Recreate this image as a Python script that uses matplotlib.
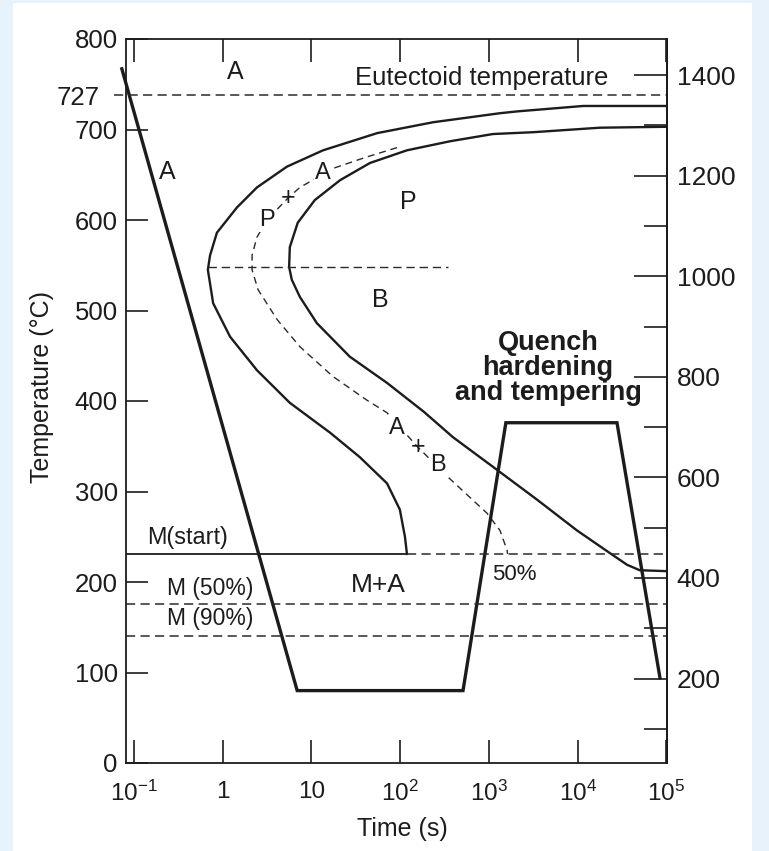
import matplotlib
matplotlib.use('Agg')
import matplotlib.pyplot as plt
from matplotlib.patches import Rectangle
from matplotlib.ticker import NullLocator

plt.rcParams['font.family'] = ['Liberation Sans', 'DejaVu Sans']
plt.rcParams['mathtext.fontset'] = 'custom'
plt.rcParams['mathtext.rm'] = 'Liberation Sans'
plt.rcParams['mathtext.it'] = 'Liberation Sans:italic'
plt.rcParams['mathtext.bf'] = 'Liberation Sans:bold'

INK = '#1c1c1c'
DASH = '#2a2a2a'

# transformation start curve (time s, temperature C)
start_t = [1e5, 1.15e4, 2080, 1330, 234, 55, 13.5, 5.3, 2.43, 1.45, 0.86, 0.72, 0.68,
           0.78, 1.21, 2.43, 5.7, 16.2, 35, 71, 99, 113, 119]
start_T = [726, 726, 720, 718, 708, 696, 677, 659, 636, 614, 586, 561, 545,
           508, 471, 434, 398, 365, 338, 309, 280, 250, 231]

# transformation finish curve
finish_t = [1e5, 1.78e4, 3130, 1110, 364, 119, 45.6, 21, 10.9, 7.0, 5.7, 5.6, 6.0, 7.4,
            11.5, 27, 71, 185, 393, 1230, 3480, 9800, 2.3e4, 3.6e4, 5.0e4, 1e5]
finish_T = [703, 702, 697, 695, 687, 677, 663, 644, 622, 597, 570, 548, 534, 515,
            486, 449, 420, 388, 360, 324, 291, 257, 232, 219, 213, 212]

# 50% transformation (dashed)
mid_t = [92, 40, 17.5, 7.4, 5.4, 3.15, 2.43, 2.14, 2.14, 2.5, 4.1, 7.4, 17.5, 42, 71,
         158, 345, 950, 1330, 1600, 1620]
mid_T = [680, 669, 657, 636, 624, 600, 581, 561, 545, 523, 490, 460, 427, 401, 387,
         349, 316, 276, 257, 235, 231]

# P/B boundary (dashed horizontal)
pb_t = [0.68, 345]
pb_T = [548, 548]

# quench hardening and tempering path
path_t = [0.073, 6.9, 510, 1550, 27700, 84500]
path_T = [767, 80, 80, 376, 376, 94]

eutectoid_line = 738      # where the 727 line sits on the drawn scale
ms_T, m50_T, m90_T = 231, 176, 140
ms_end_t = 119

x_ticks = [0.1, 1, 10, 100, 1e3, 1e4, 1e5]
x_labels = [r'$\mathregular{10^{-1}}$', '1', '10', r'$\mathregular{10^{2}}$',
            r'$\mathregular{10^{3}}$', r'$\mathregular{10^{4}}$', r'$\mathregular{10^{5}}$']
y_ticks = list(range(0, 801, 100))
f_major = [200, 400, 600, 800, 1000, 1200, 1400]
f_minor = [100, 300, 500, 700, 900, 1100, 1300]

fig = plt.figure(figsize=(7.69, 8.51), dpi=100, facecolor='#e8f2fa')
fig.add_artist(Rectangle((13 / 769, 0), 739 / 769, 848 / 851, transform=fig.transFigure,
                         facecolor='white', edgecolor='none', zorder=-1))
ax = fig.add_axes([126 / 769, 88 / 851, 541 / 769, 724 / 851])
ax.set_xscale('log')
ax.set_xlim(10 ** -1.09, 10 ** 5.006)
ax.set_ylim(0, 800)
x0 = ax.get_xlim()[0]

# curves
ax.plot(start_t, start_T, color=INK, lw=1.7, solid_joinstyle='round')
ax.plot(finish_t, finish_T, color=INK, lw=1.7, solid_joinstyle='round')
ax.plot(mid_t, mid_T, color=DASH, lw=1.0, dashes=(5, 3.5))
ax.plot(pb_t, pb_T, color=DASH, lw=1.0, dashes=(6, 3.5))
ax.plot(path_t, path_T, color=INK, lw=2.4, clip_on=False, solid_joinstyle='miter')

# horizontal reference lines
ax.plot([0.06, 1e5], [eutectoid_line] * 2, color=DASH, lw=1.1, dashes=(6, 3.5),
        clip_on=False)
ax.plot([x0, ms_end_t], [ms_T] * 2, color=INK, lw=1.3)
ax.plot([ms_end_t, 1e5], [ms_T] * 2, color=DASH, lw=1.1, dashes=(6, 3.5))
ax.plot([x0, 1e5], [m50_T] * 2, color=DASH, lw=1.1, dashes=(6, 3.5))
ax.plot([x0, 1e5], [m90_T] * 2, color=DASH, lw=1.1, dashes=(6, 3.5))

# labels
txt = dict(color=INK, ha='center', va='center', zorder=5)
wb = dict(facecolor='white', edgecolor='none', pad=0.5)
ax.text(1.37, 764, 'A', fontsize=18, **txt)
ax.text(0.24, 653, 'A', fontsize=18, **txt)
ax.text(122, 620, 'P', fontsize=18, **txt)
ax.text(59, 512, 'B', fontsize=18, **txt)
ax.text(13.5, 652, 'A', fontsize=17, bbox=wb, **txt)
ax.text(5.4, 624, '+', fontsize=18, **txt)
ax.text(3.15, 600, 'P', fontsize=17, bbox=wb, **txt)
ax.text(92, 370, 'A', fontsize=17, bbox=wb, **txt)
ax.text(158, 349, '+', fontsize=18, **txt)
ax.text(266, 329, 'B', fontsize=17, bbox=wb, **txt)
ax.text(834, 757, 'Eutectoid temperature', fontsize=18.5, **txt)
ax.text(4620, 436, 'Quench\nhardening\nand tempering', fontsize=19.5,
        fontweight='bold', linespacing=0.95, **txt)
ax.text(1920, 208, '50%', fontsize=16, **txt)
ax.text(56, 197, 'M+A', fontsize=19, **txt)
ax.text(0.14, 249, 'M(start)', fontsize=16.8, color=INK, ha='left', va='center')
ax.text(0.235, 193, 'M (50%)', fontsize=16.5, color=INK, ha='left', va='center')
ax.text(0.235, 160, 'M (90%)', fontsize=16.5, color=INK, ha='left', va='center')

# axes styling
for s in ax.spines.values():
    s.set_linewidth(1.3)
    s.set_color(INK)
ax.set_xticks(x_ticks, labels=x_labels)
ax.xaxis.set_minor_locator(NullLocator())
ax.tick_params(axis='x', which='major', direction='in', length=16.5, width=1.2,
               top=True, labelsize=17.5, pad=13, colors=INK)
ax.set_yticks(y_ticks)
ax.set_yticks([eutectoid_line], labels=['727'], minor=True)
ax.tick_params(axis='y', which='major', direction='in', length=16, width=1.2,
               labelsize=18.5, pad=6, colors=INK)
ax.tick_params(axis='y', which='minor', length=0, labelsize=18.5, pad=19, colors=INK)

secax = ax.secondary_yaxis('right', functions=(lambda c: c * 9 / 5 + 32,
                                               lambda f: (f - 32) * 5 / 9))
secax.set_yticks(f_major)
secax.set_yticks(f_minor, minor=True)
secax.tick_params(which='major', direction='in', length=24, width=1.2, labelsize=19,
                  pad=7, colors=INK)
secax.tick_params(which='minor', direction='in', length=16.5, width=1.2, colors=INK)
secax.spines['right'].set_linewidth(1.3)

ax.set_ylabel('Temperature (°C)', fontsize=18, color=INK)
ax.yaxis.set_label_coords(-0.133, 0.52)
ax.set_xlabel('Time (s)', fontsize=18, color=INK)
ax.xaxis.set_label_coords(0.51, -0.074)

plt.savefig('out.png', dpi=100, facecolor=fig.get_facecolor())
